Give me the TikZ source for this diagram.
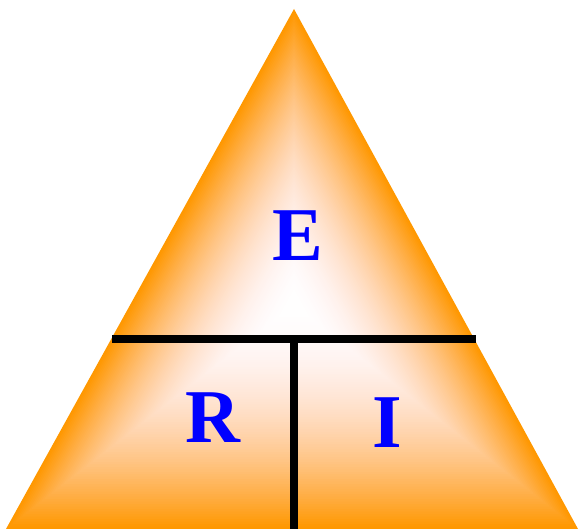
\documentclass[tikz,border=0pt]{standalone}
\usepackage{fontspec}
\setmainfont{Liberation Serif}
\usepackage{tikz}

\definecolor{triorange}{RGB}{255,152,0}
\definecolor{letterblue}{RGB}{0,0,255}

\begin{document}
\begin{tikzpicture}[x=1pt, y=-1pt, line width=8pt,
    letter/.style={text=letterblue, font=\bfseries\fontsize{#1}{#1}\selectfont, inner sep=0pt}]
            \useasboundingbox (0,0) rectangle (578,529);

            % Triangle, shaded from the centre out (white -> peach -> orange)
            \foreach \i in {90,89,...,0} {
                \pgfmathsetmacro{\u}{(\i/90)^1.8}
                \pgfmathtruncatemacro{\g}{255-103*\u^0.9}
                \pgfmathtruncatemacro{\b}{255-255*\u^1.15}
                \definecolor{ringcol}{RGB}{255,\g,\b}
                \begin{scope}[shift={(294,305)}, scale=\i/90]
                    \fill[ringcol] (0,-296) -- (-288,224) -- (284,224) -- cycle;
                \end{scope}
            }

            % Dividers
            \draw (112,338.5) -- (476,338.5);
            \draw (294,338.5) -- (294,529);

            % Letters
            \node[letter=76] (volt) at (297.5,236) {E};
            \node[letter=76] (resist) at (213,418) {R};
            \node[letter=76] (curr) at (387.5,422.5) {I};
        \end{tikzpicture}
\end{document}
